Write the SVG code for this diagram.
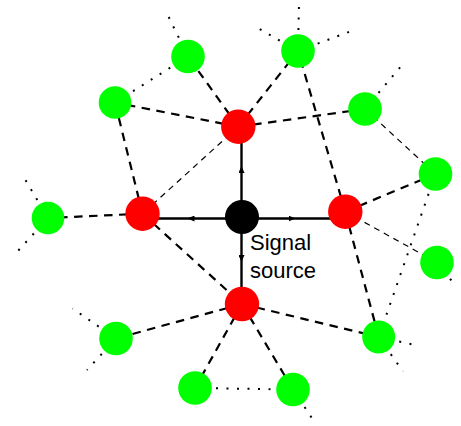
<svg xmlns="http://www.w3.org/2000/svg" width="461" height="426" viewBox="0 0 461 426">
  <style>
    .thick { stroke: #000; stroke-width: 2.2; stroke-dasharray: 8.5 6.5; fill: none; }
    .thin { stroke: #000; stroke-width: 1.2; stroke-dasharray: 6 5; fill: none; }
    .dot { stroke: #000; stroke-width: 2; stroke-dasharray: 2 8.5; fill: none; }
    .arrow { stroke: #000; stroke-width: 2.4; fill: none; marker-mid: url(#head); }
    .green { fill: #00ff00; }
    .red { fill: #ff0000; }
    .black { fill: #000; }
    .label { font-family: "Liberation Sans", Arial, sans-serif; font-size: 22px; fill: #000; }
  </style>
  <defs>
    <marker id="head" markerUnits="userSpaceOnUse" markerWidth="7" markerHeight="6" viewBox="0 0 7 6" refX="0" refY="3" orient="auto">
      <path d="M0,0 L7,3 L0,6 z" fill="#000"/>
    </marker>
  </defs>

  <rect width="461" height="426" fill="#fff"/>

  <g id="connectors">
    <!-- relay links (thick dashes) -->
    <line class="thick" x1="238.3" y1="126.7" x2="188" y2="56.5"/>
    <line class="thick" x1="238.3" y1="126.7" x2="115" y2="102.5"/>
    <line class="thick" x1="238.3" y1="126.7" x2="298" y2="51"/>
    <line class="thick" x1="238.3" y1="126.7" x2="365" y2="109"/>
    <line class="thick" x1="142.5" y1="213.7" x2="115" y2="102.5"/>
    <line class="thick" x1="142.5" y1="213.7" x2="48" y2="218"/>
    <line class="thick" x1="142.5" y1="213.7" x2="242" y2="304"/>
    <line class="thick" x1="345.3" y1="211.7" x2="298" y2="51"/>
    <line class="thick" x1="345.3" y1="211.7" x2="435.5" y2="174"/>
    <line class="thick" x1="345.3" y1="211.7" x2="378.7" y2="337"/>
    <line class="thick" x1="242" y1="304" x2="378.7" y2="337"/>
    <line class="thick" x1="242" y1="304" x2="293" y2="389.5"/>
    <line class="thick" x1="242" y1="304" x2="195" y2="388"/>
    <line class="thick" x1="242" y1="304" x2="116" y2="338.5"/>

    <!-- weak links (thin dashes) -->
    <line class="thin" x1="238.3" y1="126.7" x2="142.5" y2="213.7"/>
    <line class="thin" x1="365" y1="109" x2="435.5" y2="174"/>
    <line class="thin" x1="345.3" y1="211.7" x2="437" y2="262.5"/>

    <!-- neighbour links (dotted) -->
    <line class="dot" x1="188" y1="56.5" x2="115" y2="102.5"/>
    <line class="dot" x1="435.5" y1="174" x2="378.7" y2="337"/>
    <line class="dot" x1="195" y1="388" x2="293" y2="389.5"/>

    <!-- outgoing stubs (dotted) -->
    <line class="dot" x1="188" y1="56.5" x2="166.5" y2="12.5"/>
    <line class="dot" x1="48" y1="218" x2="22.5" y2="175"/>
    <line class="dot" x1="48" y1="218" x2="17" y2="252"/>
    <line class="dot" x1="298" y1="51" x2="299" y2="4"/>
    <line class="dot" x1="298" y1="51" x2="255" y2="26.5"/>
    <line class="dot" x1="298" y1="51" x2="350" y2="31.5"/>
    <line class="dot" x1="365" y1="109" x2="402" y2="65"/>
    <line class="dot" x1="437" y1="262.5" x2="456.5" y2="287"/>
    <line class="dot" x1="378.7" y1="337" x2="417.5" y2="345.5"/>
    <line class="dot" x1="378.7" y1="337" x2="403" y2="371.5"/>
    <line class="dot" x1="293" y1="389.5" x2="314.5" y2="422"/>
    <line class="dot" x1="116" y1="338.5" x2="72.5" y2="308.5"/>
    <line class="dot" x1="116" y1="338.5" x2="87" y2="370"/>

    <!-- signal paths from the source -->
    <path class="arrow" d="M241.5,217 L241.5,173 L241.5,127"/>
    <path class="arrow" d="M242,218.5 L194.5,218.5 L143,218.5"/>
    <path class="arrow" d="M242,218.5 L288.5,218.5 L345,218.5"/>
    <path class="arrow" d="M241.5,217 L241.5,255 L241.5,304"/>
  </g>

  <g id="source">
    <circle class="black" cx="242" cy="217" r="17"/>
  </g>
  <g id="relay-top"><circle class="red" cx="238.3" cy="126.7" r="17.2"/></g>
  <g id="relay-left"><circle class="red" cx="142.5" cy="213.7" r="17.2"/></g>
  <g id="relay-right"><circle class="red" cx="345.3" cy="211.7" r="17.2"/></g>
  <g id="relay-bottom"><circle class="red" cx="242" cy="304" r="17.2"/></g>

  <g id="node-1"><circle class="green" cx="188" cy="56.5" r="16.8"/></g>
  <g id="node-2"><circle class="green" cx="115" cy="102.5" r="16.3"/></g>
  <g id="node-3"><circle class="green" cx="48" cy="218" r="16.3"/></g>
  <g id="node-4"><circle class="green" cx="298" cy="51" r="16.8"/></g>
  <g id="node-5"><circle class="green" cx="365" cy="109" r="16.8"/></g>
  <g id="node-6"><circle class="green" cx="435.5" cy="174" r="16.8"/></g>
  <g id="node-7"><circle class="green" cx="437" cy="262.5" r="16.8"/></g>
  <g id="node-8"><circle class="green" cx="378.7" cy="337" r="16.5"/></g>
  <g id="node-9"><circle class="green" cx="293" cy="389.5" r="16.8"/></g>
  <g id="node-10"><circle class="green" cx="195" cy="388" r="16.8"/></g>
  <g id="node-11"><circle class="green" cx="116" cy="338.5" r="16.8"/></g>

  <g id="source-label">
    <text class="label" x="250" y="250">Signal</text>
    <text class="label" x="250" y="277.5">source</text>
  </g>
</svg>
